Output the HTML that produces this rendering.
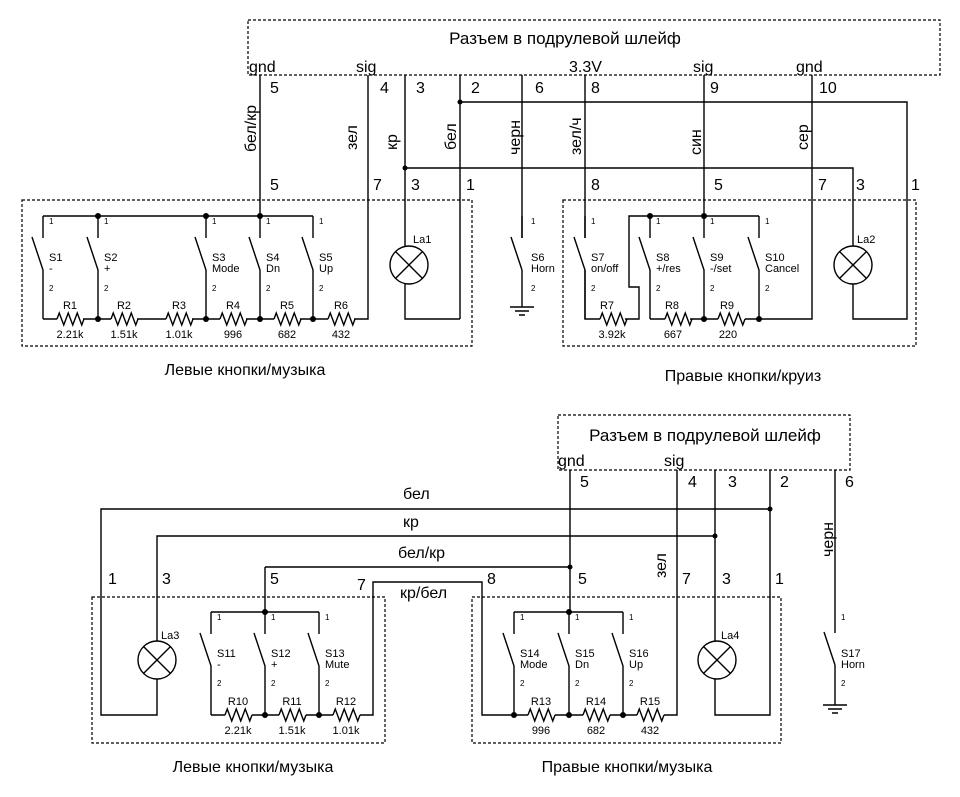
<!DOCTYPE html>
<html><head><meta charset="utf-8"><style>
body{margin:0;background:#fff}
svg{display:block}
text{font-family:"Liberation Sans","DejaVu Sans",sans-serif;fill:#000}
.b{font-size:16px}.m{font-size:11px}.s{font-size:8px}.h{font-size:17px}
</style></head><body>
<svg width="960" height="797" viewBox="0 0 960 797" xmlns="http://www.w3.org/2000/svg">
<defs>
<path id="sw" d="M0,0V22M-11,21L0,54V103" fill="none" stroke="#000" stroke-width="1.4"/>
<path id="r" d="M0,0l2.25,-6l4.5,12l4.5,-12l4.5,12l4.5,-12l4.5,12l2.25,-6" fill="none" stroke="#000" stroke-width="1.4"/>
<g id="lamp" fill="none" stroke="#000" stroke-width="1.4"><circle r="19"/><path d="M-13.4,-13.4L13.4,13.4M13.4,-13.4L-13.4,13.4"/></g>
<path id="gnd" d="M-12,0H12M-7,4H7M-3,8H3" stroke="#000" stroke-width="1.4"/>
</defs>
<g fill="none" stroke="#000" stroke-dasharray="3,2" stroke-width="1.2">
<rect x="248" y="20" width="692" height="55"/>
<rect x="22" y="200" width="450" height="146"/>
<rect x="563" y="200" width="353" height="146"/>
<rect x="558" y="415" width="292" height="55"/>
<rect x="92" y="597" width="293" height="146"/>
<rect x="472" y="597" width="309" height="146"/>
</g>
<g fill="none" stroke="#000" stroke-width="1.4">
<path d="M260,75V216M43,216H313"/>
<path d="M43,319H57M83,319H111M137,319H166M192,319H220M246,319H274M300,319H328M354,319H368V75"/>
<path d="M405,75V246M405,284V319H460M460,75V319M460,102H907V319H853V284M853,246V168H405"/>
<path d="M522,75V238M522,270V307"/>
<path d="M585,75V238M585,270V319H600M625,319H639V287H629V216H759"/>
<path d="M704,75V216M650,319H665M690,319H718M745,319H812V75"/>
<path d="M570,470V612M265,567H570M265,567V612M211,612H319M514,612H623"/>
<path d="M677,470V715H664M637,715H610M583,715H555M528,715H482V582H373V715H360M333,715H306M279,715H252M225,715H211"/>
<path d="M715,470V641M715,679V715H770V470M770,509H101V715H157V679M157,641V536H715"/>
<path d="M835,470V633M835,665V705"/>
</g>
<g fill="#000">
<circle cx="98" cy="216" r="3"/><circle cx="206" cy="216" r="3"/><circle cx="260" cy="216" r="3"/>
<circle cx="98" cy="319" r="3"/><circle cx="206" cy="319" r="3"/><circle cx="260" cy="319" r="3"/><circle cx="313" cy="319" r="3"/>
<circle cx="460" cy="102" r="2.5"/><circle cx="405" cy="168" r="2.5"/>
<circle cx="650" cy="216" r="3"/><circle cx="704" cy="216" r="3"/><circle cx="704" cy="319" r="3"/><circle cx="759" cy="319" r="3"/>
<circle cx="770" cy="509" r="2.5"/><circle cx="715" cy="536" r="2.5"/><circle cx="570" cy="567" r="2.5"/>
<circle cx="265" cy="612" r="3"/><circle cx="569" cy="612" r="3"/>
<circle cx="265" cy="715" r="3"/><circle cx="319" cy="715" r="3"/>
<circle cx="514" cy="715" r="3"/><circle cx="569" cy="715" r="3"/><circle cx="623" cy="715" r="3"/>
</g>
<use href="#sw" x="43" y="216"/><use href="#sw" x="98" y="216"/><use href="#sw" x="206" y="216"/><use href="#sw" x="260" y="216"/><use href="#sw" x="313" y="216"/>
<use href="#sw" x="585" y="216"/><use href="#sw" x="650" y="216"/><use href="#sw" x="704" y="216"/><use href="#sw" x="759" y="216"/>
<path d="M522,216V238M511,237L522,270" stroke="#000" stroke-width="1.4"/>
<use href="#sw" x="211" y="612"/><use href="#sw" x="265" y="612"/><use href="#sw" x="319" y="612"/>
<use href="#sw" x="514" y="612"/><use href="#sw" x="569" y="612"/><use href="#sw" x="623" y="612"/>
<path d="M824,632L835,665" stroke="#000" stroke-width="1.4"/>
<use href="#r" x="57" y="319"/><use href="#r" x="111" y="319"/><use href="#r" x="166" y="319"/><use href="#r" x="220" y="319"/><use href="#r" x="274" y="319"/><use href="#r" x="328" y="319"/>
<use href="#r" x="600" y="319"/><use href="#r" x="665" y="319"/><use href="#r" x="718" y="319"/>
<use href="#r" x="225" y="715"/><use href="#r" x="279" y="715"/><use href="#r" x="333" y="715"/>
<use href="#r" x="528" y="715"/><use href="#r" x="583" y="715"/><use href="#r" x="637" y="715"/>
<use href="#lamp" x="409" y="265"/><use href="#lamp" x="853" y="265"/><use href="#lamp" x="157" y="660"/><use href="#lamp" x="717" y="660"/>
<use href="#gnd" x="522" y="307"/><use href="#gnd" x="835" y="705"/>

<text class="h" x="565" y="44" text-anchor="middle">Разъем в подрулевой шлейф</text>
<g class="b">
<text x="249" y="72">gnd</text><text x="356" y="72">sig</text><text x="569" y="72">3.3V</text><text x="693" y="72">sig</text><text x="796" y="72">gnd</text>
<text x="270" y="93">5</text><text x="380" y="93">4</text><text x="416" y="93">3</text><text x="471" y="93">2</text><text x="535" y="93">6</text><text x="591" y="93">8</text><text x="710" y="93">9</text><text x="819" y="93">10</text>
<text x="270" y="190">5</text><text x="373" y="190">7</text><text x="411" y="190">3</text><text x="466" y="190">1</text><text x="591" y="190">8</text><text x="714" y="190">5</text><text x="818" y="190">7</text><text x="856" y="190">3</text><text x="911" y="190">1</text>
<text transform="translate(256,152) rotate(-90)">бел/кр</text>
<text transform="translate(357,150) rotate(-90)">зел</text>
<text transform="translate(397,150) rotate(-90)">кр</text>
<text transform="translate(456,150) rotate(-90)">бел</text>
<text transform="translate(520,155) rotate(-90)">черн</text>
<text transform="translate(581,155) rotate(-90)">зел/ч</text>
<text transform="translate(701,155) rotate(-90)">син</text>
<text transform="translate(808,150) rotate(-90)">сер</text>
<text x="245" y="375" text-anchor="middle">Левые кнопки/музыка</text>
<text x="743" y="381" text-anchor="middle">Правые кнопки/круиз</text>
</g>
<g class="s">
<text x="49" y="224">1</text><text x="104" y="224">1</text><text x="212" y="224">1</text><text x="266" y="224">1</text><text x="319" y="224">1</text>
<text x="49" y="291">2</text><text x="104" y="291">2</text><text x="212" y="291">2</text><text x="266" y="291">2</text><text x="319" y="291">2</text>
<text x="531" y="224">1</text><text x="531" y="291">2</text>
<text x="591" y="224">1</text><text x="656" y="224">1</text><text x="710" y="224">1</text><text x="765" y="224">1</text>
<text x="591" y="291">2</text><text x="656" y="291">2</text><text x="710" y="291">2</text><text x="765" y="291">2</text>
<text x="217" y="620">1</text><text x="271" y="620">1</text><text x="325" y="620">1</text>
<text x="217" y="686">2</text><text x="271" y="686">2</text><text x="325" y="686">2</text>
<text x="520" y="620">1</text><text x="575" y="620">1</text><text x="629" y="620">1</text>
<text x="520" y="686">2</text><text x="575" y="686">2</text><text x="629" y="686">2</text>
<text x="841" y="620">1</text><text x="841" y="686">2</text>
</g>
<g class="m">
<text x="49" y="261">S1</text><text x="49" y="272">-</text>
<text x="104" y="261">S2</text><text x="104" y="272">+</text>
<text x="212" y="261">S3</text><text x="212" y="272">Mode</text>
<text x="266" y="261">S4</text><text x="266" y="272">Dn</text>
<text x="319" y="261">S5</text><text x="319" y="272">Up</text>
<text x="413" y="243">La1</text><text x="857" y="243">La2</text>
<text x="531" y="261">S6</text><text x="531" y="272">Horn</text>
<text x="591" y="261">S7</text><text x="591" y="272">on/off</text>
<text x="656" y="261">S8</text><text x="656" y="272">+/res</text>
<text x="710" y="261">S9</text><text x="710" y="272">-/set</text>
<text x="765" y="261">S10</text><text x="765" y="272">Cancel</text>
<text x="70" y="309" text-anchor="middle">R1</text><text x="124" y="309" text-anchor="middle">R2</text><text x="179" y="309" text-anchor="middle">R3</text><text x="233" y="309" text-anchor="middle">R4</text><text x="287" y="309" text-anchor="middle">R5</text><text x="341" y="309" text-anchor="middle">R6</text>
<text x="70" y="338" text-anchor="middle">2.21k</text><text x="124" y="338" text-anchor="middle">1.51k</text><text x="179" y="338" text-anchor="middle">1.01k</text><text x="233" y="338" text-anchor="middle">996</text><text x="287" y="338" text-anchor="middle">682</text><text x="341" y="338" text-anchor="middle">432</text>
<text x="607" y="309" text-anchor="middle">R7</text><text x="672" y="309" text-anchor="middle">R8</text><text x="727" y="309" text-anchor="middle">R9</text>
<text x="612" y="338" text-anchor="middle">3.92k</text><text x="673" y="338" text-anchor="middle">667</text><text x="728" y="338" text-anchor="middle">220</text>
<text x="161" y="639">La3</text><text x="721" y="639">La4</text>
<text x="217" y="657">S11</text><text x="217" y="668">-</text>
<text x="271" y="657">S12</text><text x="271" y="668">+</text>
<text x="325" y="657">S13</text><text x="325" y="668">Mute</text>
<text x="520" y="657">S14</text><text x="520" y="668">Mode</text>
<text x="575" y="657">S15</text><text x="575" y="668">Dn</text>
<text x="629" y="657">S16</text><text x="629" y="668">Up</text>
<text x="841" y="657">S17</text><text x="841" y="668">Horn</text>
<text x="238" y="705" text-anchor="middle">R10</text><text x="292" y="705" text-anchor="middle">R11</text><text x="346" y="705" text-anchor="middle">R12</text>
<text x="238" y="734" text-anchor="middle">2.21k</text><text x="292" y="734" text-anchor="middle">1.51k</text><text x="346" y="734" text-anchor="middle">1.01k</text>
<text x="541" y="705" text-anchor="middle">R13</text><text x="596" y="705" text-anchor="middle">R14</text><text x="650" y="705" text-anchor="middle">R15</text>
<text x="541" y="734" text-anchor="middle">996</text><text x="596" y="734" text-anchor="middle">682</text><text x="650" y="734" text-anchor="middle">432</text>
</g>
<text class="h" x="705" y="441" text-anchor="middle">Разъем в подрулевой шлейф</text>
<g class="b">
<text x="558" y="466">gnd</text><text x="664" y="466">sig</text>
<text x="580" y="487">5</text><text x="688" y="487">4</text><text x="728" y="487">3</text><text x="780" y="487">2</text><text x="845" y="487">6</text>
<text x="403" y="499">бел</text><text x="403" y="527">кр</text><text x="398" y="558">бел/кр</text><text x="400" y="598">кр/бел</text>
<text x="108" y="584">1</text><text x="162" y="584">3</text><text x="270" y="584">5</text><text x="357" y="590">7</text><text x="487" y="584">8</text><text x="578" y="584">5</text><text x="682" y="584">7</text><text x="722" y="584">3</text><text x="775" y="584">1</text>
<text transform="translate(666,578) rotate(-90)">зел</text>
<text transform="translate(833,557) rotate(-90)">черн</text>
<text x="253" y="772" text-anchor="middle">Левые кнопки/музыка</text>
<text x="627" y="772" text-anchor="middle">Правые кнопки/музыка</text>
</g>
</svg>
</body></html>
